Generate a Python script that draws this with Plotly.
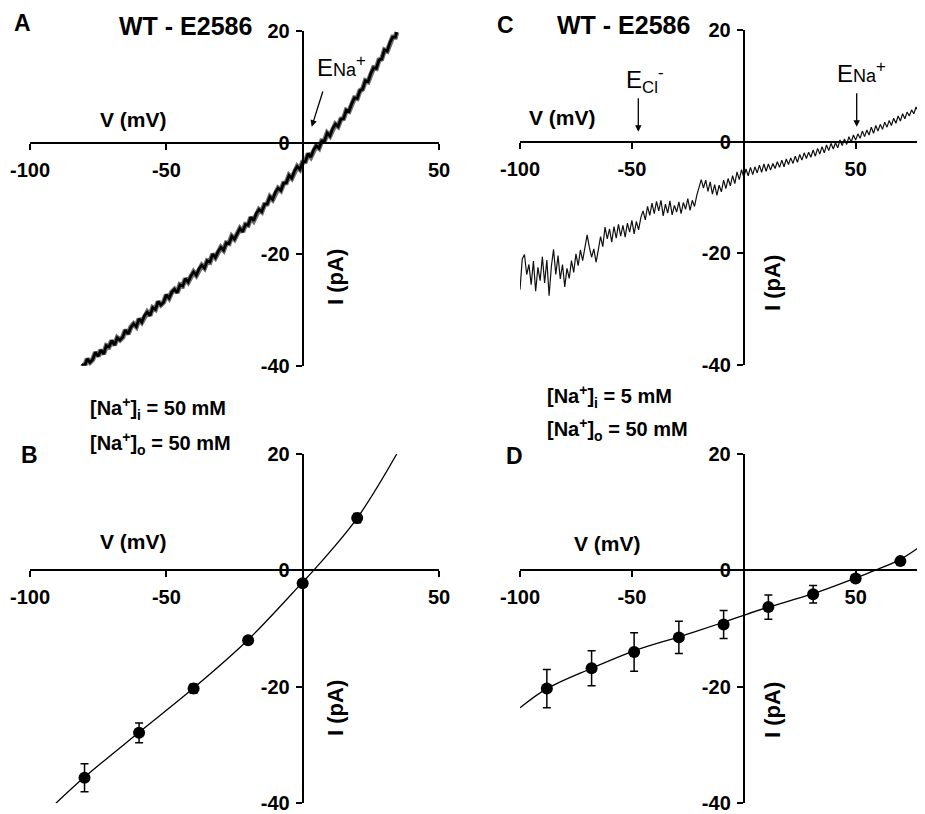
import plotly.graph_objects as go

# The page body has an 8 px margin, so the figure is sized to fill the rest of the 925x814 window.
PAGE_W, PAGE_H = 925, 814
OFF = 8
W, H = PAGE_W - OFF, PAGE_H - OFF
FONT = "Liberation Sans"

# ---------------- data ----------------
# Panel A: raw ramp I-V trace, symmetrical 50/50 mM Na+
a_v = [-81, -80, -79, -78, -77, -76, -75, -74, -73, -72, -71, -70, -69, -68, -67, -66, -65, -64, -63, -62,
       -61, -60, -59, -58, -57, -56, -55, -54, -53, -52, -51, -50, -49, -48, -47, -46, -45, -44, -43, -42,
       -41, -40, -39, -38, -37, -36, -35, -34, -33, -32, -31, -30, -29, -28, -27, -26, -25, -24, -23, -22,
       -21, -20, -19, -18, -17, -16, -15, -14, -13, -12, -11, -10, -9, -8, -7, -6, -5, -4, -3, -2,
       -1, 0, 1, 2, 3, 4, 5, 6, 7, 8, 9, 10, 11, 12, 13, 14, 15, 16, 17, 18,
       19, 20, 21, 22, 23, 24, 25, 26, 27, 28, 29, 30, 31, 32, 33, 34, 34.5]
a_i = [-39.7, -40.1, -38.8, -39.4, -38.9, -37.6, -38.3, -37.2, -37.9, -36.4, -36.6, -35.5, -36.3, -35.0, -35.4, -34.9, -33.6, -34.3, -33.1, -32.5,
       -33.0, -31.6, -32.2, -31.0, -30.4, -31.0, -29.6, -29.9, -28.5, -29.1, -28.6, -27.3, -27.9, -26.8, -26.3, -26.9, -25.5, -25.7, -24.4, -25.0,
       -23.9, -23.2, -23.8, -22.6, -22.0, -22.5, -21.2, -21.4, -20.0, -20.6, -19.5, -18.8, -19.3, -18.0, -18.1, -16.8, -17.3, -16.2, -15.4, -16.0,
       -14.7, -14.8, -13.4, -14.0, -12.7, -12.0, -12.4, -11.1, -11.0, -9.7, -10.2, -8.9, -8.2, -8.6, -7.3, -7.2, -5.9, -6.4, -5.1, -4.3,
       -4.8, -3.5, -3.4, -2.0, -2.6, -1.3, -0.6, -1.0, 0.3, 0.3, 1.7, 1.2, 2.5, 3.3, 2.9, 4.2, 4.3, 5.8, 5.6, 7.0,
       8.0, 7.9, 9.3, 9.6, 11.1, 10.9, 12.4, 13.4, 13.3, 14.8, 15.0, 16.6, 16.4, 17.9, 18.9, 18.9, 19.8]

# Panel B: mean I-V, symmetrical Na+
b_v = [-80, -60, -40, -20, 0, 20]
b_i = [-35.6, -27.9, -20.3, -12.0, -2.2, 9.0]
b_err = [2.4, 1.7, 0.8, 0.5, 0.5, 0.8]
b_fit_v = [-90.5, -80, -60, -40, -20, 0, 4, 20, 34.5]
b_fit_i = [-40.0, -35.5, -27.8, -20.2, -11.9, -2.0, 0.0, 9.0, 20.0]

# Panel C: raw ramp I-V trace, 5 mM in / 50 mM out
c_v = [-100, -99, -98, -97, -96, -95, -94, -93, -92, -91, -90, -89, -88, -87, -86, -85, -84, -83, -82, -81,
       -80, -79, -78, -77, -76, -75, -74, -73, -72, -71, -70, -69, -68, -67, -66, -65, -64, -63, -62, -61,
       -60, -59, -58, -57, -56, -55, -54, -53, -52, -51, -50, -49, -48, -47, -46, -45, -44, -43, -42, -41,
       -40, -39, -38, -37, -36, -35, -34, -33, -32, -31, -30, -29, -28, -27, -26, -25, -24, -23, -22, -21,
       -20, -19, -18, -17, -16, -15, -14, -13, -12, -11, -10, -9, -8, -7, -6, -5, -4, -3, -2, -1,
       0, 1, 2, 3, 4, 5, 6, 7, 8, 9, 10, 11, 12, 13, 14, 15, 16, 17, 18, 19,
       20, 21, 22, 23, 24, 25, 26, 27, 28, 29, 30, 31, 32, 33, 34, 35, 36, 37, 38, 39,
       40, 41, 42, 43, 44, 45, 46, 47, 48, 49, 50, 51, 52, 53, 54, 55, 56, 57, 58, 59,
       60, 61, 62, 63, 64, 65, 66, 67, 68, 69, 70, 71, 72, 73, 74, 75, 76, 77, 78, 79,
       80, 81]
c_i = [-26.5, -21.0, -20.2, -23.8, -22.0, -25.6, -21.4, -26.8, -22.5, -24.9, -20.6, -25.3, -21.2, -27.6, -22.4, -19.3, -23.8, -20.4, -24.6, -22.0,
       -26.0, -22.7, -24.5, -21.3, -23.4, -20.1, -22.2, -19.4, -21.3, -18.6, -16.7, -18.9, -20.7, -19.2, -21.6, -19.4, -17.0, -18.8, -15.3, -17.4,
       -15.6, -18.0, -15.2, -17.3, -14.8, -16.9, -15.0, -17.1, -14.6, -16.2, -14.1, -16.5, -14.3, -15.8, -13.6, -12.4, -14.0, -11.6, -13.2, -11.0,
       -12.9, -10.7, -12.4, -10.5, -13.3, -11.2, -12.8, -10.6, -13.1, -11.4, -12.6, -10.8, -12.9, -10.9, -12.1, -10.2, -12.3, -10.5, -11.6, -9.6,
       -8.0, -6.8, -8.3, -6.9, -8.9, -7.2, -9.4, -7.7, -9.6, -7.8, -9.0, -6.9, -8.4, -6.6, -7.9, -6.1, -7.5, -5.4, -6.8, -5.0,
       -6.4, -4.9, -6.1, -4.6, -5.9, -4.5, -5.6, -4.2, -5.5, -4.0, -5.3, -4.0, -5.1, -3.9, -4.8, -3.6, -4.6, -3.3, -4.5, -3.1,
       -4.1, -2.9, -3.9, -2.6, -3.7, -2.3, -3.3, -2.0, -3.0, -1.9, -2.8, -1.5, -2.6, -1.2, -2.2, -0.9, -2.0, -0.6, -1.6, -0.3,
       -1.3, -0.2, -1.1, 0.3, -0.7, 0.5, -0.5, 0.9, -0.1, 1.2, 0.3, 1.4, 0.6, 1.9, 0.9, 2.1, 1.2, 2.6, 1.5, 2.9,
       1.9, 3.1, 2.2, 3.5, 2.6, 3.8, 2.9, 4.2, 3.3, 4.6, 3.7, 5.0, 4.1, 5.3, 4.6, 5.7, 5.0, 6.2, 5.4, 6.7,
       5.9, 7.0]

# Panel D: mean I-V, 5 mM in / 50 mM out
d_v = [-88, -68, -49, -29, -9, 11, 31, 50, 70]
d_i = [-20.3, -16.8, -14.0, -11.5, -9.3, -6.3, -4.1, -1.4, 1.6]
d_err = [3.3, 3.0, 3.3, 2.75, 2.4, 2.1, 1.5, 0.6, 0.5]
d_fit_v = [-100, -88, -68, -49, -29, -9, 0, 11, 31, 50, 58.6, 70, 81]
d_fit_i = [-23.6, -20.3, -16.8, -13.8, -11.4, -8.9, -7.7, -6.3, -4.0, -1.3, 0.0, 1.9, 4.7]

x_ticks = [-100, -50, 0, 50]
x_text = ["-100", "-50", "", "50"]
y_ticks = [-40, -20, 0, 20]
y_text = ["-40", "-20", "0", "20"]

# ---------------- layout helpers (page pixels -> paper fractions) ----------------
def fx(p):
    return (p - OFF) / W

def fy(p):
    return 1 - (p - OFF) / H

panels = {
    "A": dict(xd=[fx(30), fx(439)], yd=[fy(365.7), fy(31)], xr=[-100, 50]),
    "B": dict(xd=[fx(30), fx(439)], yd=[fy(803.3), fy(454)], xr=[-100, 50]),
    "C": dict(xd=[fx(520), 1.0], yd=[fy(365), fy(30)], xr=[-100, 81]),
    "D": dict(xd=[fx(520), 1.0], yd=[fy(803.3), fy(454)], xr=[-100, 81]),
}
YR = [-40, 20]

tickfont = dict(family=FONT, size=20, color="black", weight="bold")

fig = go.Figure()
layout_axes = {}
for k, (name, p) in enumerate(panels.items(), start=1):
    sx = "" if k == 1 else str(k)
    xd, yd, xr = p["xd"], p["yd"], p["xr"]
    xpos = yd[0] + (0 - YR[0]) / (YR[1] - YR[0]) * (yd[1] - yd[0])
    ypos = xd[0] + (0 - xr[0]) / (xr[1] - xr[0]) * (xd[1] - xd[0])
    layout_axes["xaxis" + sx] = dict(
        domain=xd, range=xr, anchor="free", position=xpos,
        showgrid=False, zeroline=False, showline=True, linecolor="black", linewidth=2,
        ticks="outside", ticklen=6, tickwidth=2, tickcolor="black",
        tickvals=x_ticks, ticktext=x_text, tickfont=tickfont, ticklabelstandoff=3,
        ticklabeloverflow="allow", fixedrange=True, automargin=False,
    )
    layout_axes["yaxis" + sx] = dict(
        domain=yd, range=YR, anchor="free", position=ypos,
        showgrid=False, zeroline=False, showline=True, linecolor="black", linewidth=2,
        ticks="outside", ticklen=6, tickwidth=2, tickcolor="black",
        tickvals=y_ticks, ticktext=y_text, tickfont=tickfont, ticklabelstandoff=2,
        ticklabeloverflow="allow", fixedrange=True, automargin=False,
    )

# ---------------- traces ----------------
fig.add_trace(go.Scatter(x=a_v, y=a_i, mode="lines", xaxis="x", yaxis="y",
                         line=dict(color="#707070", width=5.2), hoverinfo="skip"))
fig.add_trace(go.Scatter(x=a_v, y=a_i, mode="lines", xaxis="x", yaxis="y",
                         line=dict(color="#000000", width=2.8), hoverinfo="skip"))

fig.add_trace(go.Scatter(x=b_fit_v, y=b_fit_i, mode="lines", xaxis="x2", yaxis="y2",
                         line=dict(color="black", width=1.3, shape="spline"), hoverinfo="skip"))
fig.add_trace(go.Scatter(x=b_v, y=b_i, mode="markers", xaxis="x2", yaxis="y2",
                         marker=dict(color="black", size=12),
                         error_y=dict(type="data", array=b_err, color="black", thickness=1.5, width=4)))

fig.add_trace(go.Scatter(x=c_v, y=c_i, mode="lines", xaxis="x3", yaxis="y3",
                         line=dict(color="#111111", width=1.2), hoverinfo="skip"))

fig.add_trace(go.Scatter(x=d_fit_v, y=d_fit_i, mode="lines", xaxis="x4", yaxis="y4",
                         line=dict(color="black", width=1.3, shape="spline"), hoverinfo="skip"))
fig.add_trace(go.Scatter(x=d_v, y=d_i, mode="markers", xaxis="x4", yaxis="y4",
                         marker=dict(color="black", size=12),
                         error_y=dict(type="data", array=d_err, color="black", thickness=1.5, width=4)))

# ---------------- annotations ----------------
ann = []

def text(t, x, y, size, bold=True, xanchor="center", yanchor="middle", angle=0):
    ann.append(dict(text=t, x=fx(x), y=fy(y), xref="paper", yref="paper", showarrow=False,
                    xanchor=xanchor, yanchor=yanchor, textangle=angle,
                    font=dict(family=FONT, size=size, color="black", weight="bold" if bold else "normal")))

def arrow(x0, y0, x1, y1):
    ann.append(dict(text="", x=fx(x1), y=fy(y1), xref="paper", yref="paper",
                    ax=x0 - x1, ay=y0 - y1, axref="pixel", ayref="pixel",
                    showarrow=True, arrowhead=2, arrowsize=1, arrowwidth=1.3, arrowcolor="black",
                    standoff=0, startstandoff=0))

# panel letters
text("A", 22, 23, 23)
text("B", 29, 455, 23)
text("C", 505, 25, 23)
text("D", 514, 456, 23)
# titles
text("WT - E2586", 185, 26, 25)
text("WT - E2586", 623, 25, 25)
# axis titles
for (vx, vy) in [(133, 119), (133, 541), (562, 117), (607, 543)]:
    text("V (mV)", vx, vy, 21)
for (ix, iy) in [(335, 277), (335, 708), (772, 283), (772, 710)]:
    text("I (pA)", ix, iy, 22, angle=-90)
# concentrations
text("[Na<sup>+</sup>]<sub>i</sub> = 50 mM", 88, 408, 20, xanchor="left")
text("[Na<sup>+</sup>]<sub>o</sub> = 50 mM", 88, 443, 20, xanchor="left")
text("[Na<sup>+</sup>]<sub>i</sub> = 5 mM", 545, 396, 20, xanchor="left")
text("[Na<sup>+</sup>]<sub>o</sub> = 50 mM", 545, 430, 20, xanchor="left")
# reversal potentials
text("E<span style='font-size:18px'>Na</span><sup>+</sup>", 341, 66, 24, bold=False)
text("E<span style='font-size:18px'>Na</span><sup>+</sup>", 861, 72, 24, bold=False)
text("E<sub>Cl</sub><sup>-</sup>", 644, 80, 24, bold=False)
arrow(323.3, 90, 311.7, 126.7)
arrow(638.3, 96.7, 638.3, 131.7)
arrow(856.7, 91.7, 856.7, 126.7)

fig.update_layout(
    width=W, height=H, autosize=False,
    margin=dict(l=0, r=0, t=0, b=0, pad=0, autoexpand=False),
    paper_bgcolor="white", plot_bgcolor="white", showlegend=False,
    annotations=ann, **layout_axes,
)

fig.write_html("out.html")
